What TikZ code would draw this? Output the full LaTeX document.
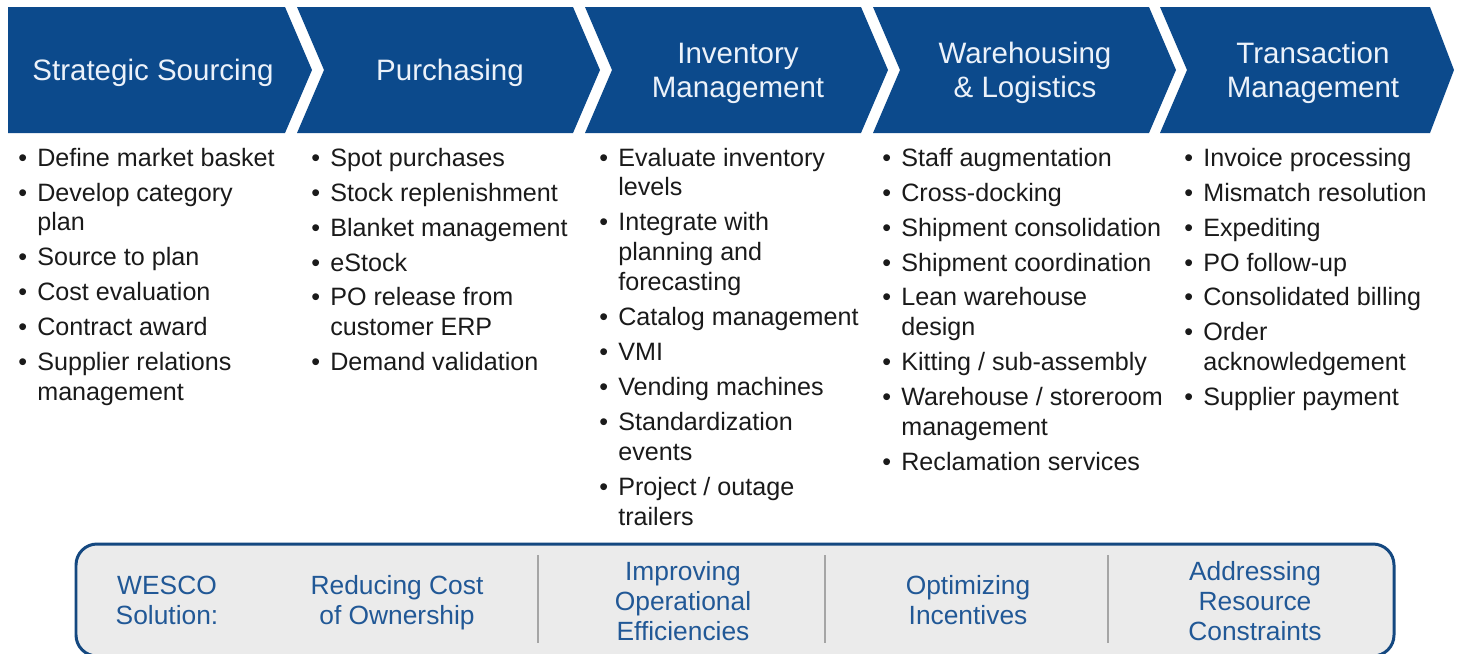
\documentclass[tikz,border=0pt]{standalone}
\usepackage{fontspec}
\setmainfont{Liberation Sans}
\definecolor{chevblue}{RGB}{12,74,140}
\definecolor{headtext}{RGB}{236,242,250}
\definecolor{itemtext}{RGB}{26,26,26}
\definecolor{soltext}{RGB}{33,88,150}
\definecolor{boxline}{RGB}{20,72,128}
\definecolor{boxfill}{RGB}{235,235,235}
\definecolor{sepgray}{RGB}{165,165,165}
\begin{document}
\begin{tikzpicture}[x=0.02cm,y=-0.02cm,
  chev/.style={fill=chevblue},
  head/.style={text=headtext, align=center, font=\fontsize{16.8}{19.3}\selectfont},
  items/.style={anchor=base west, inner sep=0pt, text=itemtext, font=\fontsize{14.3}{17.07}\selectfont},
  sol/.style={text=soltext, align=center, font=\fontsize{15}{17.07}\selectfont},
  sep/.style={draw=sepgray, line width=0.8pt}]
\useasboundingbox (0,0) rectangle (1460,653);
\clip (0,0) rectangle (1460,653);
% process chevrons
\path[chev] (8,7) -- (285,7) -- (312,70) -- (285,133) -- (8,133) -- cycle;
\path[chev] (297,7) -- (573,7) -- (600,70) -- (573,133) -- (297,133) -- (324,70) -- cycle;
\path[chev] (585,7) -- (861,7) -- (888,70) -- (861,133) -- (585,133) -- (612,70) -- cycle;
\path[chev] (873,7) -- (1149,7) -- (1176,70) -- (1149,133) -- (873,133) -- (900,70) -- cycle;
\path[chev] (1160,7) -- (1430,7) -- (1454,70) -- (1430,133) -- (1160,133) -- (1187,70) -- cycle;
\node[head] (h1) at (153,73) {Strategic Sourcing};
\node[head] (h2) at (450,73) {Purchasing};
\node[head] (h3) at (738,73) {Inventory\\Management};
\node[head] (h4) at (1025,73) {Warehousing\\\& Logistics};
\node[head] (h5) at (1313,73) {Transaction\\Management};
% activities under each step
\node[items] (c1) at (18,166) {\begin{tabular}[t]{@{}p{10.8pt}@{}l@{}}
• & Define market basket\\[2.85pt]
• & Develop category\\ & plan\\[2.85pt]
• & Source to plan\\[2.85pt]
• & Cost evaluation\\[2.85pt]
• & Contract award\\[2.85pt]
• & Supplier relations\\ & management
\end{tabular}};
\node[items] (c2) at (311,166) {\begin{tabular}[t]{@{}p{10.8pt}@{}l@{}}
• & Spot purchases\\[2.85pt]
• & Stock replenishment\\[2.85pt]
• & Blanket management\\[2.85pt]
• & eStock\\[2.85pt]
• & PO release from\\ & customer ERP\\[2.85pt]
• & Demand validation
\end{tabular}};
\node[items] (c3) at (599,166) {\begin{tabular}[t]{@{}p{10.8pt}@{}l@{}}
• & Evaluate inventory\\ & levels\\[2.85pt]
• & Integrate with\\ & planning and\\ & forecasting\\[2.85pt]
• & Catalog management\\[2.85pt]
• & VMI\\[2.85pt]
• & Vending machines\\[2.85pt]
• & Standardization\\ & events\\[2.85pt]
• & Project / outage\\ & trailers
\end{tabular}};
\node[items] (c4) at (882,166) {\begin{tabular}[t]{@{}p{10.8pt}@{}l@{}}
• & Staff augmentation\\[2.85pt]
• & Cross-docking\\[2.85pt]
• & Shipment consolidation\\[2.85pt]
• & Shipment coordination\\[2.85pt]
• & Lean warehouse\\ & design\\[2.85pt]
• & Kitting / sub-assembly\\[2.85pt]
• & Warehouse / storeroom\\ & management\\[2.85pt]
• & Reclamation services
\end{tabular}};
\node[items] (c5) at (1184,166) {\begin{tabular}[t]{@{}p{10.8pt}@{}l@{}}
• & Invoice processing\\[2.85pt]
• & Mismatch resolution\\[2.85pt]
• & Expediting\\[2.85pt]
• & PO follow-up\\[2.85pt]
• & Consolidated billing\\[2.85pt]
• & Order\\ & acknowledgement\\[2.85pt]
• & Supplier payment
\end{tabular}};
% solution band
\path[draw=boxline, fill=boxfill, line width=1.7pt, rounded corners=0.42cm] (76,544) rectangle (1394,656);
\path[sep] (538,555) -- (538,643);
\path[sep] (825,555) -- (825,643);
\path[sep] (1108,555) -- (1108,643);
\node[sol] (s0) at (167,600) {WESCO\\Solution:};
\node[sol] (s1) at (397,603) {Reducing Cost\\of Ownership};
\node[sol] (s2) at (683,601) {Improving\\Operational\\Efficiencies};
\node[sol] (s3) at (968,600) {Optimizing\\Incentives};
\node[sol] (s4) at (1255,601) {Addressing\\Resource\\Constraints};
\end{tikzpicture}
\end{document}
